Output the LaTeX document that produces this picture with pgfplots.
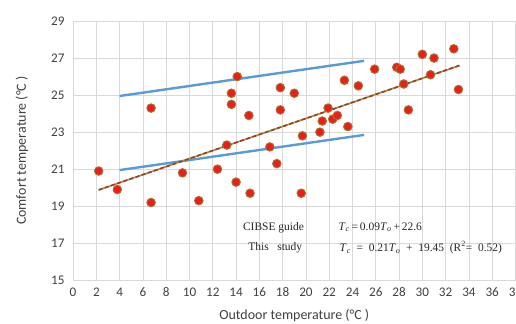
\documentclass[border=0pt]{standalone}
\usepackage{pgfplots}
\pgfplotsset{compat=1.18}
\usepackage{fontspec}
\setmainfont{Carlito}
\newfontfamily\annfont{Liberation Serif}
\definecolor{gridc}{RGB}{217,217,217}
\definecolor{bluel}{RGB}{91,155,213}
\definecolor{dotred}{RGB}{235,30,25}
\definecolor{dotedge}{RGB}{160,120,50}
\definecolor{trendbr}{RGB}{165,55,35}
\definecolor{trendol}{RGB}{160,145,60}
\definecolor{txt}{RGB}{64,64,64}
\begin{document}
\begin{tikzpicture}
\begin{axis}[
  name=ax,
  scale only axis,
  width=442bp, height=259bp,
  xmin=0, xmax=38, ymin=15, ymax=29,
  xtick={0,2,...,38}, ytick={15,17,...,29},
  grid=major,
  grid style={gridc, line width=0.8bp},
  axis line style={draw=none},
  major tick length=0pt,
  /pgf/number format/assume math mode=true,
  tick label style={font=\fontsize{13.2}{15}\selectfont, text=txt},
  yticklabel style={xshift=-5bp},
  xticklabel style={yshift=-4bp},
  label style={font=\fontsize{14}{16}\selectfont, text=txt},
  xlabel={Outdoor temperature (°C )},
  ylabel={Comfort temperature (°C )},
  xlabel style={at={(axis description cs:0.5,-0.135)}, anchor=center},
  ylabel style={at={(axis description cs:-0.1154,0.5)}, anchor=center},
  clip=false,
]
\addplot[only marks, mark=*, mark size=4.3bp,
  mark options={fill=dotred, draw=dotedge, line width=0.9bp}] coordinates {
(2.2,20.9) (3.8,19.9) (6.7,24.3) (6.7,19.2) (9.4,20.8) (10.8,19.3)
(12.4,21.0) (13.2,22.3) (13.6,25.1) (13.6,24.5) (14.0,20.3) (14.1,26.0)
(15.1,23.9) (15.2,19.7) (16.9,22.2) (17.5,21.3) (17.8,25.4) (17.8,24.2)
(19.0,25.1) (19.6,19.7) (19.7,22.8) (21.2,23.0) (21.4,23.6) (21.9,24.3)
(22.3,23.7) (22.7,23.9) (23.3,25.8) (23.6,23.3) (24.5,25.5) (25.9,26.4)
(27.8,26.5) (28.1,26.4) (28.4,25.6) (28.8,24.2) (30.0,27.2) (30.7,26.1)
(31.0,27.0) (32.7,27.5) (33.1,25.3)
};
\addplot[bluel, line width=2.4bp] coordinates {(4,24.95) (25,26.85)};
\addplot[bluel, line width=2.4bp] coordinates {(4,20.95) (25,22.85)};
\addplot[trendol, line width=1.6bp] coordinates {(2.2,19.88) (33.2,26.6)};
\addplot[trendbr, line width=1.6bp, dash pattern=on 4bp off 2.5bp] coordinates {(2.2,19.88) (33.2,26.6)};
\node[anchor=west, font=\annfont\fontsize{11.5}{13}\selectfont, text=black!85] at (axis cs:14.3,17.86) {CIBSE guide};
\node[anchor=west, font=\annfont\fontsize{11.5}{13}\selectfont, text=black!85] at (axis cs:14.75,16.76) {This\ \ \ study};
\node[anchor=west, font=\annfont\fontsize{11.5}{13}\selectfont, text=black!85] at (axis cs:22.5,17.86) {\textit{T}\textsubscript{\textit{c}}\,=\,0.09\textit{T}\textsubscript{\textit{o}}\,+\,22.6};
\node[anchor=west, font=\annfont\fontsize{11.5}{13}\selectfont, text=black!85] at (axis cs:22.6,16.76) {\textit{T}\textsubscript{\textit{c}}\ \ =\ \ 0.21\textit{T}\textsubscript{\textit{o}}\ \ +\ \ 19.45\ \ (R\textsuperscript{2}=\ \ 0.52)};
\end{axis}
\pgfresetboundingbox
\path[use as bounding box] ([shift={(-73bp,-43bp)}]ax.south west) rectangle ([shift={(0.5bp,21bp)}]ax.north east);
\end{tikzpicture}
\end{document}
